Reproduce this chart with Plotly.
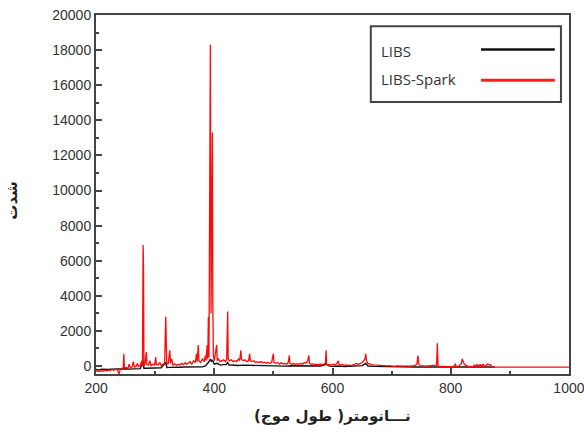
import plotly.graph_objects as go

# ---- data (wavelength nm, intensity) ----
libs_spark_wl = [
    200, 203, 206, 209, 212, 215, 218, 221, 224, 227, 230, 233, 236, 239, 241, 244, 246, 247, 248,
    251, 254, 256, 258, 261, 263, 265, 268, 270, 272, 275, 277, 278.5, 279.6, 280.3, 281, 283, 285,
    286, 289, 291, 293, 296, 299, 301, 302, 305, 308, 310, 313, 316, 317.9, 318.5, 319.5, 322, 324.7,
    326, 328, 330, 333, 336, 339, 342, 345, 348, 351, 353, 356, 359, 362, 365, 368, 370, 371, 373,
    374, 377, 380, 383, 385, 386, 388, 389, 390, 391, 393.4, 394.5, 396.8, 397.5, 398.5, 400, 402,
    404, 405, 407, 410, 413, 416, 419, 421, 422.7, 423.5, 426, 429, 432, 435, 438, 441, 443, 445,
    446, 449, 452, 455, 458, 460, 461, 464, 467, 470, 473, 476, 479, 482, 485, 488, 491, 494, 497,
    500, 501, 504, 507, 510, 513, 516, 519, 522, 525, 527, 528, 531, 534, 537, 540, 543, 546, 549,
    552, 555, 558, 560, 561, 564, 567, 570, 573, 576, 579, 582, 585, 588, 589.2, 590, 592, 595, 598,
    601, 604, 607, 610, 611, 614, 617, 620, 623, 626, 629, 632, 635, 638, 641, 644, 647, 650, 653,
    655, 656.3, 657.5, 660, 663, 666, 669, 672, 675, 678, 681, 684, 687, 690, 693, 696, 699, 702,
    705, 708, 711, 714, 717, 720, 723, 726, 729, 732, 735, 738, 741, 743, 744.5, 746, 749, 752, 755,
    758, 761, 764, 767, 770, 773, 776, 777.4, 778.5, 781, 784, 787, 790, 793, 796, 799, 802, 805,
    808, 810, 813, 816, 818, 819.5, 821, 823, 825, 828, 831, 834, 837, 840, 841, 845, 846, 850, 851,
    855, 856, 860, 862, 865, 868, 870, 875, 1000,
]
libs_spark_int = [
    -300, -280, -320, -260, -300, -240, -280, -220, -260, -200, -240, -180, -220, -450, -180, -150, -100, 700, -120,
    -80, -140, 100, -100, -60, 250, -60, -20, 150, -40, 50, 300, -20, 6900, 5500, 0, 150, 800,
    100, 50, 300, 20, 100, 50, 500, 80, 60, 200, 30, 100, 150, 2800, 1500, 200, 100, 900,
    150, 400, 50, 120, 30, 100, 60, 150, 80, 200, 100, 150, 250, 100, 300, 200, 700, 250, 1200,
    300, 200, 400, 250, 600, 300, 1200, 400, 2800, 500, 18300, 3000, 13300, 3700, 600, 300, 800,
    1200, 300, 400, 250, 300, 350, 250, 400, 3100, 400, 300, 350, 250, 300, 250, 400, 300, 900,
    400, 300, 350, 250, 300, 700, 300, 250, 300, 200, 250, 200, 250, 180, 220, 150, 200, 150, 200,
    700, 200, 150, 200, 120, 180, 130, 150, 100, 200, 600, 150, 100, 150, 80, 130, 100, 150, 100,
    200, 150, 300, 600, 150, 100, 120, 80, 100, 60, 120, 80, 100, 150, 900, 100, 60, 80, 50,
    100, 60, 120, 300, 80, 60, 80, 40, 60, 30, 50, 20, 50, 100, 150, 100, 150, 200, 300,
    400, 700, 300, 150, 100, 80, 60, 50, 40, 50, 30, 40, 20, 30, 10, 20, 0, 10,
    -20, 0, -10, 10, -20, 0, -10, 10, -20, 0, -10, 20, 50, 150, 600, 100, 20, 0, 10,
    -10, 0, 10, -10, 0, 20, 50, 1300, 0, -20, -10, -30, -20, -40, -30, -20, -50, -30,
    100, -50, -30, 50, 150, 400, 200, 100, 50, -20, -40, -30, -50, 50, -50, 100, -50, 100, -50,
    120, -50, 50, 100, 80, 50, -50, -60, -60,
]

libs_wl = [
    200, 205, 210, 215, 220, 225, 230, 235, 240, 245, 250, 255, 260, 265, 270, 275, 279.5, 281,
    285, 290, 295, 300, 305, 310, 317.9, 320, 325, 330, 340, 350, 360, 370, 375, 380, 385, 388,
    390, 393.4, 395, 396.8, 398, 400, 405, 410, 415, 420, 422.7, 425, 430, 440, 450, 460, 470,
    480, 490, 500, 510, 520, 530, 540, 550, 560, 570, 580, 589.2, 595, 600, 610, 620, 630, 640,
    650, 656.3, 660, 670, 680, 690, 700, 720, 740, 760, 780, 800, 820, 840, 860, 875,
]
libs_int = [
    -200, -220, -180, -210, -200, -180, -170, -200, -190, -160, -160, -180, -170, -150, -140, -150, 300, -130,
    -130, -120, -130, -110, -120, -100, 200, -90, -80, -90, -70, -60, -50, -50, -30, -50, 0, 100,
    200, 400, 250, 350, 200, 100, 150, 50, 80, 80, 200, 50, 60, 30, 50, 40, 20,
    0, 20, 20, 0, -10, 10, 0, 10, 20, 0, 0, 100, -10, -20, 0, -30, -20, 0,
    20, 150, 0, -20, -30, -40, -50, -50, -60, -60, -60, -60, -60, -60, -60, -60,
]

x_ticks = [200, 400, 600, 800, 1000]
x_ticktext = ["200", "400", "600", "800", "1000"]
y_ticks = [0, 2000, 4000, 6000, 8000, 10000, 12000, 14000, 16000, 18000, 20000]
y_ticktext = ["0", "2000", "4000", "6000", "8000", "10000", "12000", "14000", "16000", "18000", "20000"]
series_names = ["LIBS", "LIBS-Spark"]
x_title = "نـــانومتر( طول موج)\u200f"
y_title = "شدت"

fig = go.Figure()
fig.add_trace(go.Scatter(x=libs_wl, y=libs_int, mode="lines", name=series_names[0],
                         line=dict(color="#111111", width=1.4), showlegend=False))
fig.add_trace(go.Scatter(x=libs_spark_wl, y=libs_spark_int, mode="lines", name=series_names[1],
                         line=dict(color="rgb(255,10,10)", width=1.3), showlegend=False))

tick_font = dict(family="Liberation Sans", size=14, color="#333333")
axis_common = dict(
    showgrid=False, zeroline=False, showline=True, linecolor="#444444", linewidth=2,
    mirror=True, ticks="inside", tickcolor="#444444", tickwidth=2, ticklen=6,
    tickfont=tick_font, tickmode="array", ticklabeloverflow="allow", automargin=False,
)
fig.update_xaxes(range=[199.9, 1000.1], tickvals=x_ticks, ticktext=x_ticktext,
                 minor=dict(tickvals=[300, 500, 700, 900], ticks="inside", ticklen=3,
                            tickcolor="#444444", tickwidth=2),
                 **axis_common)
fig.update_yaxes(range=[-456, 20000], tickvals=y_ticks, ticktext=y_ticktext,
                 minor=dict(dtick=1000, ticks="inside", ticklen=3, tickcolor="#444444", tickwidth=2),
                 **axis_common)

# custom legend (text left, line sample right)
fig.add_shape(type="rect", xref="paper", yref="paper", x0=0.581, x1=0.983, y0=0.758, y1=0.969,
              line=dict(color="#444444", width=2), fillcolor="white", layer="above")
fig.add_shape(type="line", xref="paper", yref="paper", x0=0.814, x1=0.970, y0=0.904, y1=0.904,
              line=dict(color="#111111", width=2.5))
fig.add_shape(type="line", xref="paper", yref="paper", x0=0.814, x1=0.970, y0=0.818, y1=0.818,
              line=dict(color="rgb(255,30,30)", width=3))
for name, yy in zip(series_names, [0.900, 0.822]):
    fig.add_annotation(xref="paper", yref="paper", x=0.598, y=yy, text=name, showarrow=False,
                       xanchor="left", yanchor="middle",
                       font=dict(family="Open Sans", size=15, color="#333333"))

fig.add_annotation(xref="paper", yref="paper", x=0.5, y=-0.086, text="<b>" + x_title + "</b>",
                   showarrow=False, xanchor="center", yanchor="top",
                   font=dict(family="DejaVu Sans", size=15, color="#222222"))
fig.add_annotation(xref="paper", yref="paper", x=-0.178, y=0.485, text="<b>" + y_title + "</b>",
                   showarrow=False, textangle=-90, xanchor="center", yanchor="middle",
                   font=dict(family="DejaVu Sans", size=15, color="#222222"))

fig.update_layout(width=584, height=439, margin=dict(l=96, r=15, t=15, b=65),
                  paper_bgcolor="white", plot_bgcolor="white", showlegend=False)

fig.write_html("out.html")
